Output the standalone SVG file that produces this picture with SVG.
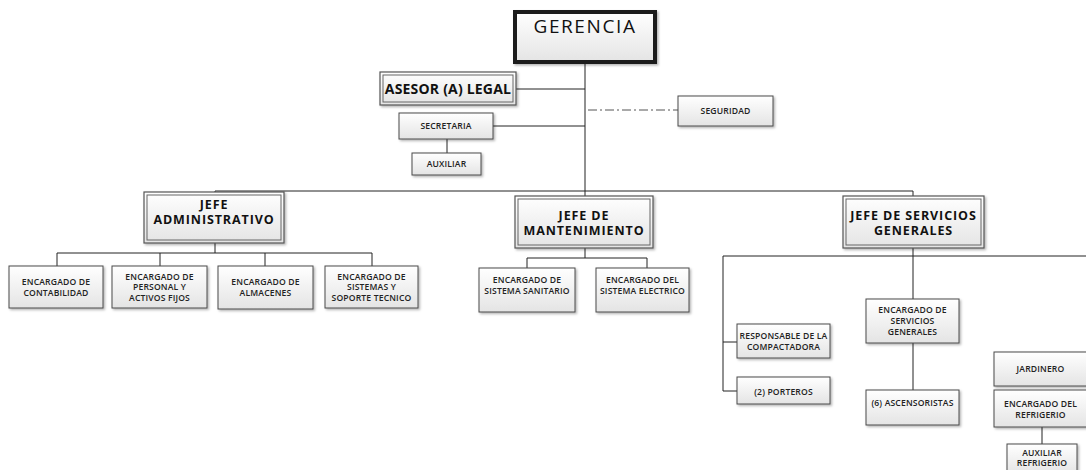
<svg xmlns="http://www.w3.org/2000/svg" width="1086" height="470" viewBox="0 0 1086 470">
<defs>
<linearGradient id="g" x1="0" y1="0" x2="0" y2="1">
<stop offset="0" stop-color="#ffffff"/>
<stop offset="1" stop-color="#e4e4e4"/>
</linearGradient>
<filter id="sh" x="-10%" y="-10%" width="130%" height="140%">
<feDropShadow dx="1.5" dy="1.5" stdDeviation="0.8" flood-color="#000" flood-opacity="0.3"/>
</filter>
</defs>
<style>
.b{fill:url(#g);stroke:#4a4a4a;stroke-width:1;filter:url(#sh)}
.d{fill:url(#g);stroke:#555;stroke-width:1.2;filter:url(#sh)}
.di{fill:none;stroke:#666;stroke-width:1}
.t{font-family:"Open Sans","Liberation Sans",sans-serif;font-size:8.6px;font-weight:600;fill:#222;text-anchor:middle;letter-spacing:0.15px}
.h{font-family:"Open Sans","Liberation Sans",sans-serif;font-size:12.5px;font-weight:700;fill:#111;text-anchor:middle;letter-spacing:0.9px}
.c{fill:none;stroke:#222;stroke-width:1}
.dd{fill:none;stroke:#555;stroke-width:1;stroke-dasharray:9 3 2 3}
</style>
<rect width="1086" height="470" fill="#fff"/>
<g id="connectors">
<path class="c" d="M585 63V192"/>
<path class="c" d="M516 89H585"/>
<path class="c" d="M493 126H585"/>
<path class="dd" d="M588 110H678"/>
<path class="c" d="M447 139V153"/>
<path class="c" d="M215 192V191H913V196"/>
<path class="c" d="M585 192V196"/>
<path class="c" d="M215 243V253M57 253H372M57 253V266M160 253V266M265 253V266M372 253V266"/>
<path class="c" d="M585 248V258M527 258H647M527 258V268M647 258V268"/>
<path class="c" d="M913 248V256M723 256H1086M913 256V299M913 343V390"/>
<path class="c" d="M723 256V391H737M723 342H737"/>
<path class="c" d="M1042 427V444"/>
</g>
<g id="gerencia">
<rect x="515" y="12" width="140" height="50" fill="url(#g)" stroke="#1a1a1a" stroke-width="4" filter="url(#sh)"/>
<text x="585" y="33" font-family="Open Sans, Liberation Sans, sans-serif" font-size="19" fill="#111" text-anchor="middle" letter-spacing="1.6">GERENCIA</text>
</g>
<g id="asesor">
<rect class="d" x="380" y="72" width="136" height="33"/>
<rect class="di" x="383" y="75" width="130" height="27"/>
<text class="h" x="448" y="94" style="font-size:14px;letter-spacing:0.2px">ASESOR (A) LEGAL</text>
</g>
<g id="seguridad">
<rect class="b" x="678" y="96" width="95" height="30"/>
<text class="t" x="725.5" y="113.5">SEGURIDAD</text>
</g>
<g id="secretaria">
<rect class="b" x="399" y="113" width="94" height="26"/>
<text class="t" x="446" y="129">SECRETARIA</text>
</g>
<g id="auxiliar">
<rect class="b" x="412" y="153" width="69" height="22"/>
<text class="t" x="446.5" y="167">AUXILIAR</text>
</g>
<g id="jefe-admin">
<rect class="d" x="144" y="192" width="140" height="51"/>
<rect class="di" x="147" y="195" width="134" height="45"/>
<text class="h" x="214" y="208.5">JEFE</text>
<text class="h" x="214" y="223.5">ADMINISTRATIVO</text>
</g>
<g id="jefe-mant">
<rect class="d" x="515" y="196" width="138" height="52"/>
<rect class="di" x="518" y="199" width="132" height="46"/>
<text class="h" x="584" y="219.5">JEFE DE</text>
<text class="h" x="584" y="234.5">MANTENIMIENTO</text>
</g>
<g id="jefe-serv">
<rect class="d" x="843" y="196" width="141" height="52"/>
<rect class="di" x="846" y="199" width="135" height="46"/>
<text class="h" x="913.5" y="219.5">JEFE DE SERVICIOS</text>
<text class="h" x="913.5" y="234.5">GENERALES</text>
</g>
<g id="contabilidad">
<rect class="b" x="9" y="266" width="94" height="42"/>
<text class="t" x="56" y="285">ENCARGADO DE</text>
<text class="t" x="56" y="296">CONTABILIDAD</text>
</g>
<g id="personal">
<rect class="b" x="112" y="266" width="95" height="42"/>
<text class="t" x="159.5" y="279.5">ENCARGADO DE</text>
<text class="t" x="159.5" y="290">PERSONAL Y</text>
<text class="t" x="159.5" y="300.5">ACTIVOS FIJOS</text>
</g>
<g id="almacenes">
<rect class="b" x="218" y="266" width="95" height="43"/>
<text class="t" x="265.5" y="285">ENCARGADO DE</text>
<text class="t" x="265.5" y="296">ALMACENES</text>
</g>
<g id="sistemas">
<rect class="b" x="325" y="266" width="93" height="42"/>
<text class="t" x="371.5" y="279.5">ENCARGADO DE</text>
<text class="t" x="371.5" y="290">SISTEMAS Y</text>
<text class="t" x="371.5" y="300.5">SOPORTE TECNICO</text>
</g>
<g id="sanitario">
<rect class="b" x="479" y="268" width="96" height="44"/>
<text class="t" x="527" y="283">ENCARGADO DE</text>
<text class="t" x="527" y="293.5">SISTEMA SANITARIO</text>
</g>
<g id="electrico">
<rect class="b" x="596" y="268" width="93" height="44"/>
<text class="t" x="642.5" y="283">ENCARGADO DEL</text>
<text class="t" x="642.5" y="293.5">SISTEMA ELECTRICO</text>
</g>
<g id="serv-generales">
<rect class="b" x="866" y="299" width="93" height="44"/>
<text class="t" x="912.5" y="313">ENCARGADO DE</text>
<text class="t" x="912.5" y="324">SERVICIOS</text>
<text class="t" x="912.5" y="335">GENERALES</text>
</g>
<g id="compactadora">
<rect class="b" x="737" y="324" width="93" height="34"/>
<text class="t" x="783.5" y="339">RESPONSABLE DE LA</text>
<text class="t" x="783.5" y="350">COMPACTADORA</text>
</g>
<g id="porteros">
<rect class="b" x="737" y="377" width="93" height="27"/>
<text class="t" x="783.5" y="394.5">(2) PORTEROS</text>
</g>
<g id="ascensoristas">
<rect class="b" x="866" y="390" width="93" height="35"/>
<text class="t" x="912.5" y="406">(6) ASCENSORISTAS</text>
</g>
<g id="jardinero">
<rect class="b" x="994" y="352" width="93" height="34"/>
<text class="t" x="1040.5" y="371.5">JARDINERO</text>
</g>
<g id="refrigerio">
<rect class="b" x="994" y="390" width="93" height="37"/>
<text class="t" x="1040.5" y="407">ENCARGADO DEL</text>
<text class="t" x="1040.5" y="418">REFRIGERIO</text>
</g>
<g id="aux-refrigerio">
<rect class="b" x="1007" y="444" width="70" height="30"/>
<text class="t" x="1042" y="456">AUXILIAR</text>
<text class="t" x="1042" y="466">REFRIGERIO</text>
</g>
</svg>
